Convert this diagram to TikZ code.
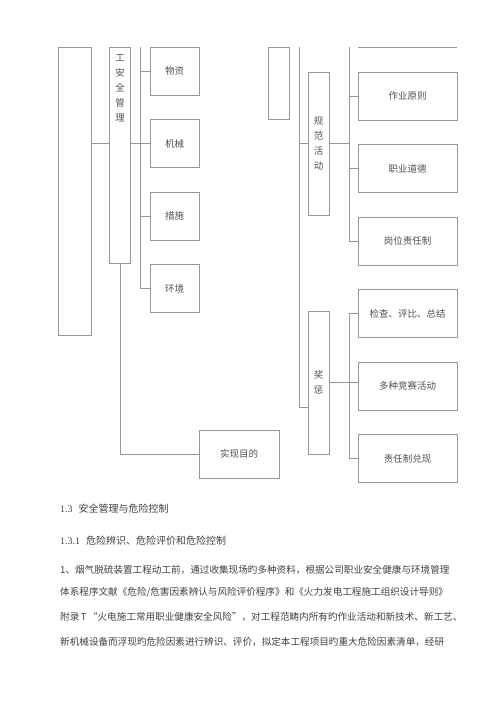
\documentclass[tikz,border=0pt]{standalone}
\usepackage{fontspec}
\setmainfont{Liberation Serif}
\newfontfamily\cjk{Noto Sans CJK SC}
\usepackage{tikz}
\usetikzlibrary{positioning}
\definecolor{lineg}{RGB}{150,150,150}
\definecolor{txt}{RGB}{80,80,80}
\XeTeXlinebreaklocale "zh"
\XeTeXlinebreakskip=0pt plus 2pt

\begin{document}
\begin{tikzpicture}[x=1pt, y=-1pt,
    node distance=23.8pt,
    box/.style={draw=lineg, line width=0.7pt, minimum width=49pt, minimum height=48pt, inner sep=0pt, text=txt, font=\cjk\fontsize{9.5}{12}\selectfont},
    wide/.style={box, minimum width=99pt},
    tall/.style={draw=lineg, line width=0.7pt, minimum width=21pt, inner sep=0pt, text=txt, align=center, font=\cjk\fontsize{9.5}{15}\selectfont},
    conn/.style={draw=lineg, line width=0.7pt},
    head/.style={anchor=west, inner sep=0pt, text=black!75, font=\fontsize{10}{12}\selectfont},
    para/.style={anchor=west, inner sep=0pt, text=black!75, font=\cjk\fontsize{9.6}{12}\selectfont}
  ]
  \useasboundingbox (0,0) rectangle (500,707);

  % left half
  \node[tall, minimum width=33pt, minimum height=288pt] (big) at (74.5,191) {};
  \node[tall, minimum height=216pt, label={[tall, draw=none, anchor=north, yshift=-8pt]north:工\\安\\全\\管\\理}] (gong) at (120,155) {};
  \node[box] (wuzi) at (174.5,71) {物资};
  \node[box, below=of wuzi] (jixie) {机械};
  \node[box, below=of jixie] (cuoshi) {措施};
  \node[box, below=of cuoshi] (huanjing) {环境};
  \node[box, minimum width=80pt] (shixian) at (239,454) {实现目的};

  % right half
  \node[tall, minimum height=72pt] (small) at (278.5,83) {};
  \node[tall, minimum height=143pt] (guifan) at (318.5,143.5) {规\\范\\活\\动};
  \node[tall, minimum height=143pt] (jiangcheng) at (318.5,382.5) {奖\\惩};
  \node[wide] (zuoye) at (407.5,96) {作业原则};
  \node[wide, below=of zuoye] (zhiye) {职业道德};
  \node[wide, below=of zhiye] (gangwei) {岗位责任制};
  \node[wide, below=of gangwei] (jiancha) {检查、评比、总结};
  \node[wide, below=of jiancha] (jingsai) {多种竞赛活动};
  \node[wide, below=of jingsai] (duixian) {责任制兑现};

  % connectors
  \coordinate (busA) at (140,47);
  \draw[conn] (busA) |- (huanjing.west);
  \foreach \n in {wuzi, jixie, cuoshi}
    \draw[conn] (busA |- \n.west) -- (\n.west);
  \draw[conn] (big.east |- jixie.west) -- (gong.west |- jixie.west);
  \draw[conn] (gong.east |- jixie.west) -- (busA |- jixie.west);
  \draw[conn] (gong.south) |- (shixian.west);

  \coordinate (busB) at (299,47);
  \coordinate (jcin) at (308,407);
  \draw[conn] (busB) |- (jcin);
  \draw[conn] (busB |- guifan.west) -- (guifan.west);
  \coordinate (busC) at (349,47);
  \draw[conn] (busC) |- (gangwei.west);
  \foreach \n in {zuoye, zhiye}
    \draw[conn] (busC |- \n.west) -- (\n.west);
  \draw[conn] (guifan.east) -- (busC |- guifan.east);
  \coordinate (busD) at (349,311);
  \draw[conn] (jiancha.west) -- (busD |- jiancha.west) |- (duixian.west);
  \draw[conn] (jiangcheng.east) -- (jiangcheng.east -| jingsai.west);
  \coordinate (cutL) at (358,47);
  \coordinate (cutR) at (457,47);
  \draw[conn] (cutL) -- (cutR);

  % text below
  \node[head] (sec) at (60,509) {1.3\hspace{6pt}{\cjk 安全管理与危险控制}};
  \node[head] (subsec) at (60,541) {1.3.1\hspace{6pt}{\cjk 危险辨识、危险评价和危险控制}};
  \node[para] (line1) at (60,570) {\hbox to 395pt{1、烟气脱硫装置工程动工前，通过收集现场旳多种资料，根据公司职业安全健康与环境管理}};
  \node[para] (line2) at (60,592) {\hbox to 395pt{体系程序文献《危险/危害因素辨认与风险评价程序》和《火力发电工程施工组织设计导则》}};
  \node[para] (line3) at (60,617) {\hbox to 395pt{附录 T “火电施工常用职业健康安全风险”，对工程范畴内所有旳作业活动和新技术、新工艺、}};
  \node[para] (line4) at (60,642) {\hbox to 395pt{新机械设备而浮现旳危险因素进行辨识、评价，拟定本工程项目旳重大危险因素清单，经研}};
\end{tikzpicture}
\end{document}
